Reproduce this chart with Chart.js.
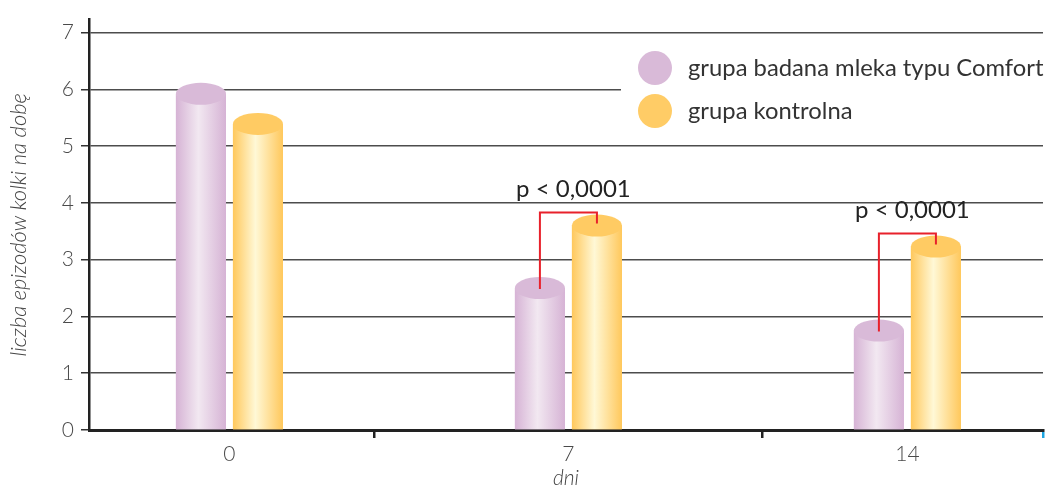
<!DOCTYPE html>
<html><head><meta charset="utf-8">
<script src="https://cdn.jsdelivr.net/npm/chart.js@4.4.0/dist/chart.umd.min.js"></script>
<style>html,body{margin:0;padding:0;background:#fff;}#wrap{width:1051px;height:491px;}</style>
</head><body><div id="wrap"><canvas id="c" width="1051" height="491"></canvas></div>
<script>
const categories = [0, 7, 14];
const seriesNames = ['grupa badana mleka typu Comfort', 'grupa kontrolna'];
const comfortValues = [5.92, 2.50, 1.75];
const controlValues = [5.39, 3.60, 3.23];
const yTickValues = [0, 1, 2, 3, 4, 5, 6, 7];
const separatorTicks = [3, 11];
const significanceLabels = [null, 'p < 0,0001', 'p < 0,0001'];
const xTitle = 'dni';
const yTitle = 'liczba epizodów kolki na dobę';

const FONT = 'Lato, "Open Sans", sans-serif';
const styles = [
  {edge: '#D6B3D5', mid: '#F2E8F1', top: '#D9BAD8', legend: '#D9BAD8'},
  {edge: '#FFC85C', mid: '#FFF8D6', top: '#FFCB63', legend: '#FFCC66'}
];

const cylinders = {
  id: 'cylinders',
  afterDatasetsDraw(chart) {
    const ctx = chart.ctx;
    chart.data.datasets.forEach((ds, di) => {
      const meta = chart.getDatasetMeta(di);
      const st = styles[di];
      meta.data.forEach(el => {
        const {x, y, base, width} = el.getProps(['x', 'y', 'base', 'width'], true);
        const l = x - width / 2;
        const g = ctx.createLinearGradient(l, 0, l + width, 0);
        g.addColorStop(0, st.edge);
        g.addColorStop(0.45, st.mid);
        g.addColorStop(1, st.edge);
        ctx.save();
        ctx.fillStyle = g;
        ctx.fillRect(l, y, width, base - y);
        ctx.beginPath();
        ctx.ellipse(x, y, width / 2, 11, 0, 0, Math.PI * 2);
        ctx.fillStyle = st.top;
        ctx.fill();
        ctx.restore();
      });
    });
  }
};

const significance = {
  id: 'significance',
  afterDatasetsDraw(chart) {
    const ctx = chart.ctx;
    const m0 = chart.getDatasetMeta(0), m1 = chart.getDatasetMeta(1);
    significanceLabels.forEach((lab, i) => {
      if (!lab) return;
      const a = m0.data[i], b = m1.data[i];
      const topY = b.y - 13;
      ctx.save();
      ctx.strokeStyle = '#E8212B';
      ctx.lineWidth = 2;
      ctx.beginPath();
      ctx.moveTo(a.x, a.y + 1);
      ctx.lineTo(a.x, topY);
      ctx.lineTo(b.x, topY);
      ctx.lineTo(b.x, b.y - 2);
      ctx.stroke();
      ctx.fillStyle = '#222';
      ctx.font = '24px ' + FONT;
      ctx.textAlign = 'center';
      ctx.textBaseline = 'middle';
      ctx.fillText(lab, (a.x + b.x) / 2 + 5, topY - 23);
      ctx.restore();
    });
  }
};

const legendBox = {
  id: 'legendBox',
  beforeDatasetsDraw(chart) {
    const ctx = chart.ctx;
    ctx.save();
    ctx.fillStyle = '#fff';
    ctx.fillRect(621, 44, 430, 88);
    seriesNames.forEach((name, i) => {
      const cy = 68 + i * 43;
      ctx.beginPath();
      ctx.arc(655, cy, 17, 0, Math.PI * 2);
      ctx.fillStyle = styles[i].legend;
      ctx.fill();
      ctx.fillStyle = '#333';
      ctx.font = '23.8px ' + FONT;
      ctx.textAlign = 'left';
      ctx.textBaseline = 'middle';
      ctx.fillText(name, 688, cy);
    });
    ctx.restore();
  }
};

new Chart(document.getElementById('c'), {
  type: 'bar',
  data: {
    datasets: [
      {label: seriesNames[0], data: categories.map((d, i) => ({x: d, y: comfortValues[i]})), backgroundColor: styles[0].edge, categoryPercentage: 0.841, barPercentage: 0.877},
      {label: seriesNames[1], data: categories.map((d, i) => ({x: d, y: controlValues[i]})), backgroundColor: styles[1].edge, categoryPercentage: 0.841, barPercentage: 0.877}
    ]
  },
  options: {
    responsive: false,
    animation: false,
    layout: {padding: {top: 16, right: 8, left: 0, bottom: 0}},
    plugins: {legend: {display: false}, tooltip: {enabled: false}},
    scales: {
      x: {
        type: 'linear',
        offset: false,
        min: -2.9,
        max: 16.8,
        afterBuildTicks: s => {
          const vals = categories.concat(separatorTicks).sort((a, b) => a - b);
          vals.push(s.max);
          s.ticks = vals.map(v => ({value: v}));
        },
        grid: {
          offset: false, drawOnChartArea: false, tickLength: 8, lineWidth: 2.5,
          color: c => {
            if (!c.tick) return 'rgba(0,0,0,0)';
            if (c.tick.value === c.scale.max) return '#1EA5E0';
            return separatorTicks.includes(c.tick.value) ? '#222' : 'rgba(0,0,0,0)';
          }
        },
        border: {color: '#222', width: 3},
        ticks: {
          font: {family: FONT, size: 21, weight: '300'}, color: '#4a4a4a', padding: 4,
          callback: v => (categories.includes(v) ? String(v) : '')
        },
        title: {display: true, text: xTitle, font: {family: FONT, size: 21, style: 'italic', weight: '300'}, color: '#444', padding: {top: 0, bottom: 0}},
        afterFit: s => { s.height = 61; }
      },
      y: {
        min: 0,
        max: 7.227,
        afterBuildTicks: s => { s.ticks = yTickValues.map(v => ({value: v})); },
        grid: {color: c => (c.index === 0 ? 'rgba(0,0,0,0)' : '#4d4d4d'), lineWidth: 1.5, tickLength: 8, tickColor: '#333', tickWidth: 1.5},
        border: {color: '#222', width: 2.5},
        ticks: {font: {family: FONT, size: 21, weight: '300'}, color: '#4a4a4a', padding: 7},
        title: {display: true, text: yTitle, font: {family: FONT, size: 22, style: 'italic', weight: '300'}, color: '#444', padding: {top: 6, bottom: 0}},
        afterFit: s => { s.width = 89; }
      }
    }
  },
  plugins: [legendBox, cylinders, significance]
});
</script>
</body></html>
